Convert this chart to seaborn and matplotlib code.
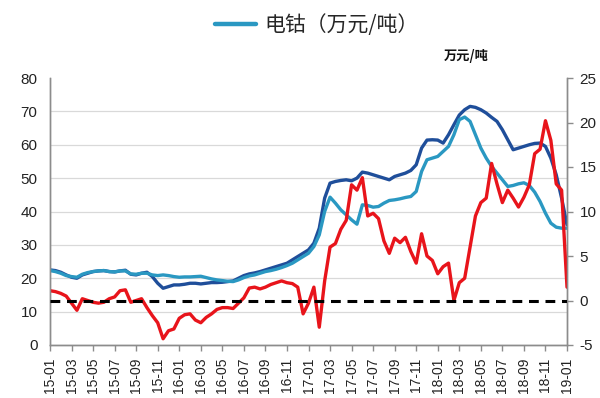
import numpy as np
import pandas as pd
import matplotlib
matplotlib.use("Agg")
import matplotlib.pyplot as plt
import seaborn as sns
from matplotlib.lines import Line2D

# half-month steps starting at 2015-01
months = np.arange(97) * 0.5

dark_blue = [22.5, 22.3, 21.8, 21.0, 20.3, 20.0, 21.0, 21.5, 22.0, 22.2,
             22.3, 22.0, 21.9, 22.2, 22.4, 21.2, 21.0, 21.5, 21.8, 20.5,
             18.5, 17.0, 17.5, 18.0, 18.0, 18.2, 18.5, 18.5, 18.3, 18.5,
             18.7, 18.7, 18.8, 19.0, 19.2, 20.0, 20.8, 21.3, 21.6, 22.0,
             22.5, 23.0, 23.5, 24.0, 24.5, 25.5, 26.5, 27.5, 28.5, 30.5,
             35.0, 44.0, 48.5, 49.0, 49.3, 49.5, 49.2, 50.0, 51.8, 51.5,
             51.0, 50.5, 50.0, 49.5, 50.5, 51.0, 51.5, 52.3, 54.0, 59.0,
             61.4, 61.5, 61.4, 60.5, 63.0, 66.0, 68.9, 70.5, 71.5, 71.2,
             70.5, 69.5, 68.2, 67.0, 64.5, 61.5, 58.5, 59.0, 59.5, 60.0,
             60.4, 60.5, 59.5, 56.0, 51.0, 44.0, 36.0]

light_blue = [22.3, 22.0, 21.5, 20.8, 20.5, 20.3, 21.2, 21.7, 22.0, 22.2,
              22.3, 22.0, 21.9, 22.2, 22.2, 21.3, 21.2, 21.5, 21.5, 21.0,
              20.8, 21.0, 20.8, 20.5, 20.3, 20.4, 20.4, 20.5, 20.6, 20.2,
              19.8, 19.5, 19.3, 19.1, 19.0, 19.5, 20.2, 20.7, 21.0, 21.5,
              22.0, 22.3, 22.7, 23.2, 23.8, 24.5, 25.5, 26.5, 27.5, 29.5,
              33.0, 40.0, 44.3, 42.5, 40.5, 39.0, 37.5, 36.2, 42.0, 41.8,
              41.3, 41.5, 42.5, 43.3, 43.5, 43.8, 44.2, 44.5, 46.0, 52.0,
              55.5, 56.0, 56.5, 58.0, 59.5, 63.0, 67.5, 68.3, 67.0, 63.0,
              59.0, 56.0, 53.5, 51.5, 49.5, 47.5, 47.8, 48.3, 48.6, 47.8,
              45.8, 43.0, 39.5, 36.5, 35.3, 35.0, 35.0]

red = [1.1, 1.0, 0.8, 0.5, -0.3, -1.1, 0.2, 0.0, -0.2, -0.3,
       -0.2, 0.2, 0.4, 1.1, 1.2, -0.2, 0.0, 0.2, -0.8, -1.7,
       -2.5, -4.3, -3.4, -3.2, -2.0, -1.6, -1.5, -2.2, -2.5, -1.9,
       -1.5, -1.0, -0.8, -0.8, -0.9, -0.3, 0.3, 1.4, 1.5, 1.3,
       1.5, 1.8, 2.0, 2.2, 2.0, 1.9, 1.5, -1.5, -0.3, 1.5,
       -3.0, 2.2, 6.0, 6.4, 8.0, 9.0, 13.0, 12.4, 13.8, 9.5,
       9.8, 9.2, 6.7, 5.3, 7.0, 6.5, 7.1, 5.5, 4.2, 7.5,
       5.0, 4.5, 3.0, 3.8, 4.2, 0.0, 2.0, 2.5, 6.0, 9.5,
       11.0, 11.5, 15.4, 13.1, 11.0, 12.4, 11.5, 10.5, 11.6, 13.0,
       16.5, 17.0, 20.2, 18.0, 13.1, 12.4, 1.5]

tick_labels = ["15-01", "15-03", "15-05", "15-07", "15-09", "15-11",
               "16-01", "16-03", "16-05", "16-07", "16-09", "16-11",
               "17-01", "17-03", "17-05", "17-07", "17-09", "17-11",
               "18-01", "18-03", "18-05", "18-07", "18-09", "18-11",
               "19-01"]
tick_pos = np.arange(len(tick_labels)) * 2
left_ticks = [0, 10, 20, 30, 40, 50, 60, 70, 80]
right_ticks = [-5, 0, 5, 10, 15, 20, 25]
legend_label = "电钴（万元/吨）"
unit_label = "万元/吨"

C_DARK = "#1F4E9A"
C_LIGHT = "#2A98C2"
C_RED = "#E8141B"

sns.set_theme(style="white")
plt.rcParams['font.family'] = ['Liberation Sans', 'Noto Sans CJK SC', 'DejaVu Sans']

df = pd.DataFrame({"m": months, "db": dark_blue, "lb": light_blue, "rd": red})

fig = plt.figure(figsize=(6, 3.98), dpi=100)
ax = fig.add_axes([50 / 600, 1 - 345 / 398, 517 / 600, 267 / 398])
ax2 = ax.twinx()

sns.lineplot(data=df, x="m", y="lb", ax=ax, color=C_LIGHT, lw=2.4)
sns.lineplot(data=df, x="m", y="db", ax=ax, color=C_DARK, lw=2.4)
ax.lines[0].set_zorder(3)
sns.lineplot(data=df, x="m", y="rd", ax=ax2, color=C_RED, lw=2.4)
ax2.axhline(0, color="black", lw=2.2, ls=(0, (3.2, 2.2)), zorder=5)

ax.set_xlim(0, 48)
ax.set_ylim(0, 80)
ax2.set_ylim(-5, 25)
ax.set_xticks(tick_pos)
ax.set_xticklabels(tick_labels, rotation=90, fontsize=10)
ax.set_yticks(left_ticks)
ax.set_yticklabels([str(v) for v in left_ticks], fontsize=11)
ax2.set_yticks(right_ticks)
ax2.set_yticklabels([str(v) for v in right_ticks], fontsize=11)
ax.set_xlabel("")
ax.set_ylabel("")
ax2.set_ylabel("")

ax.yaxis.grid(True, color="#D9D9D9", lw=0.9)
ax.set_axisbelow(True)
ax.yaxis.get_gridlines()[-1].set_visible(False)
ax2.grid(False)

for a in (ax, ax2):
    a.spines["top"].set_visible(False)
    for s in ("left", "right", "bottom"):
        a.spines[s].set_color("#8C8C8C")
        a.spines[s].set_linewidth(1.0)
ax.tick_params(axis="x", direction="out", length=4, width=1, color="#8C8C8C",
               pad=5, bottom=True, labelcolor="#222222")
ax.tick_params(axis="y", length=0, pad=9, labelcolor="#222222")
ax2.tick_params(axis="y", direction="out", length=4, width=1, color="#8C8C8C",
                pad=5, right=True, labelcolor="#222222")

fig.legend(handles=[Line2D([], [], color=C_LIGHT, lw=3.2)], labels=[legend_label],
           loc="center", bbox_to_anchor=(0.528, 1 - 25 / 398), frameon=False,
           prop={"family": ["Noto Sans CJK SC", "DejaVu Sans"], "size": 15},
           handlelength=2.0, handletextpad=0.4, borderpad=0)

fig.text(466 / 600, 1 - 56 / 398, unit_label, ha="center", va="center",
         fontsize=9.5, fontweight="bold", family=["Noto Sans CJK SC", "DejaVu Sans"],
         color="#111111")

fig.savefig("out.png", dpi=100)
